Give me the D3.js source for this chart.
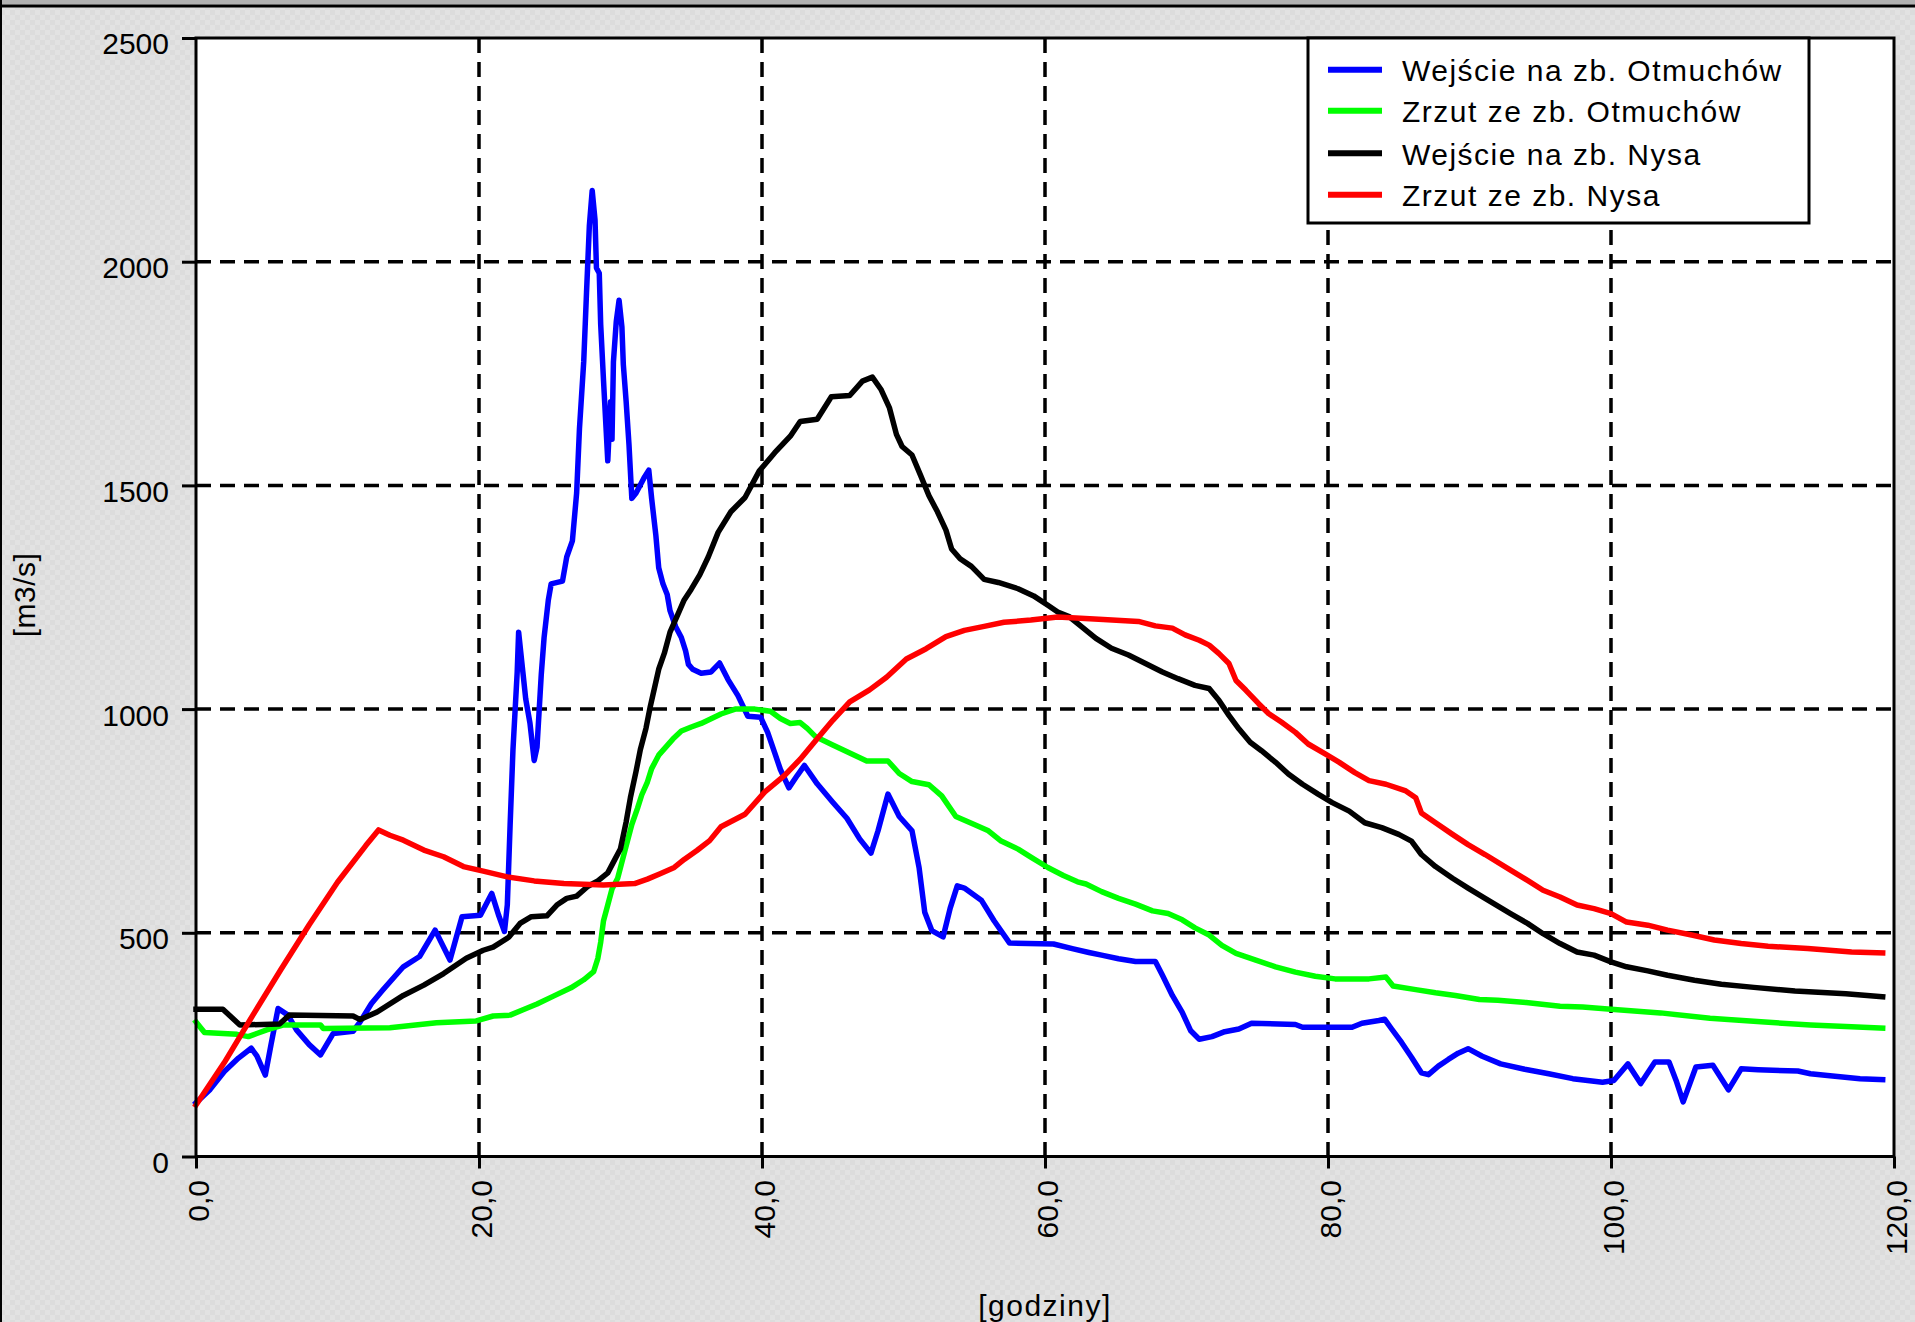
<!DOCTYPE html>
<html lang="pl">
<head>
<meta charset="utf-8">
<title>Przepływy – zbiorniki Otmuchów i Nysa</title>
<script src="https://cdn.jsdelivr.net/npm/d3@7/dist/d3.min.js"></script>
<style>
  html, body { margin: 0; padding: 0; background: #e0e0e0; }
  svg { display: block; font-family: "Liberation Sans", Arial, sans-serif; }
</style>
</head>
<body>
<svg id="chart" width="1915" height="1322"></svg>
<script>
// Axis ticks
const hourTicks = [0, 20, 40, 60, 80, 100, 120];
const flowTicks = [0, 500, 1000, 1500, 2000, 2500];

// Legend labels (same order as the series below)
const seriesNames = [
  "Wejście na zb. Otmuchów",
  "Zrzut ze zb. Otmuchów",
  "Wejście na zb. Nysa",
  "Zrzut ze zb. Nysa"
];
const seriesColors = ["#0000ff", "#00ff00", "#000000", "#ff0000"];

// [godziny, m3/s]
const wejscieOtmuchow = [
  [0,120],[1,150],[2,190],[3,220],[3.9,242],[4.3,225],[4.9,182],[5.3,250],[5.8,331],[6.5,316],
  [7.1,283],[8,250],[8.8,227],[9.7,275],[11.1,280],[11.6,301],[12.4,342],[13.2,372],[14.65,424],
  [15.8,447],[16.9,506],[17.95,439],[18.8,536],[20.1,539],[20.9,588],[21.4,538],[21.8,503],
  [22.0,562],[22.2,742],[22.4,909],[22.7,1083],[22.8,1172],[23.1,1083],[23.3,1023],[23.6,969],
  [23.9,885],[24.1,915],[24.4,1077],[24.6,1160],[24.9,1244],[25.1,1280],[25.9,1286],[26.2,1340],
  [26.6,1376],[26.9,1483],[27.1,1627],[27.4,1776],[27.6,1932],[27.8,2081],[28.0,2159],[28.2,2093],
  [28.3,1986],[28.5,1974],[28.6,1860],[28.8,1734],[29.0,1615],[29.1,1555],[29.3,1687],[29.4,1603],
  [29.5,1776],[29.7,1866],[29.9,1914],[30.1,1854],[30.2,1770],[30.4,1687],[30.6,1591],[30.8,1471],
  [31.1,1483],[31.4,1501],[31.7,1519],[32.0,1534],[32.2,1471],[32.5,1388],[32.7,1316],[33.0,1280],
  [33.3,1256],[33.5,1220],[33.9,1184],[34.3,1160],[34.6,1130],[34.8,1100],[35.1,1089],[35.7,1080],
  [36.4,1083],[37,1103],[37.6,1066],[38.3,1030],[39,984],[39.9,982],[40.4,948],[40.9,902],
  [41.3,865],[41.9,824],[42.5,852],[43,874],[43.9,833],[45,792],[46,756],[46.9,710],[47.7,678],
  [48.2,728],[48.9,810],[49.7,760],[50.6,728],[51.1,646],[51.5,546],[52,505],[52.8,491],[53.3,555],
  [53.8,605],[54.3,600],[55.5,573],[56.4,527],[57.5,477],[60.6,475],[62,464],[63.1,456],[64,450],
  [65.2,442],[66.4,436],[67.8,436],[68.3,405],[69,360],[69.7,322],[70.3,281],[70.9,262],[71.8,268],
  [72.7,279],[73.7,285],[74.6,298],[77.7,295],[78.2,289],[81.7,289],[82.4,298],[83.6,304],[84,307],
  [84.5,285],[85.2,255],[85.9,222],[86.6,187],[87.1,183],[87.8,202],[88.5,217],[89.2,231],[89.9,241],
  [90.9,224],[92.2,207],[93.9,195],[95.6,185],[97.3,174],[99.4,166],[100.2,170],[101.2,207],
  [102.1,163],[103.1,211],[104.1,211],[104.6,170],[105.1,122],[106,200],[107.2,204],[108.3,149],
  [109.2,196],[110.4,194],[113.2,191],[114.1,185],[115.3,181],[117.6,174],[119.2,172]
];

const zrzutOtmuchow = [
  [0,301],[0.6,277],[2.9,273],[3.7,268],[4.3,275],[5,283],[6.2,294],[8.8,294],[9,286],[13.7,288],
  [17,299],[19.8,303],[21,314],[22.2,316],[23.2,329],[24.1,341],[25.3,359],[26.5,377],[27.4,395],
  [28.1,413],[28.4,443],[28.6,479],[28.8,527],[29.1,562],[29.4,598],[29.8,622],[30.1,658],[30.5,706],
  [30.8,742],[31.2,778],[31.5,808],[31.9,837],[32.2,867],[32.7,897],[33.2,915],[33.7,933],[34.3,951],
  [35,960],[35.7,968],[37.1,989],[38.1,1000],[39.5,1000],[40.6,995],[41.3,979],[42,968],[42.7,970],
  [43.2,957],[43.8,938],[45,920],[46.2,902],[47.4,884],[48.9,884],[49.7,856],[50.6,838],[51.8,831],
  [52.7,806],[53.7,760],[55,742],[56,728],[56.9,705],[58.1,687],[59,669],[60.2,646],[61.3,628],
  [62.3,614],[62.9,609],[64,592],[65.2,577],[66.4,564],[67.6,549],[68.7,543],[69.7,529],[70.6,511],
  [71.6,495],[72.5,472],[73.5,454],[74.9,439],[76.3,424],[77.7,412],[79.1,403],[80.5,397],[82.9,397],
  [84.1,401],[84.6,381],[86.2,373],[87.6,366],[89,360],[90.7,351],[92,349],[94,344],[96.4,336],
  [98,334],[100,329],[103.5,321],[107,309],[110.6,301],[114.1,294],[117,290],[119.2,287]
];

const wejscieNysa = [
  [0,329],[1.9,329],[3.1,294],[5.9,296],[6.6,316],[11.1,314],[11.6,306],[12.8,323],[14.65,360],
  [16.1,383],[17.5,409],[19.1,443],[20.3,461],[21,468],[22.1,490],[22.9,521],[23.7,536],[24.8,538],
  [25.5,562],[26.2,577],[26.9,582],[27.7,604],[28.4,616],[29.1,634],[29.5,658],[30,688],[30.4,748],
  [30.7,802],[31.1,861],[31.4,909],[31.8,957],[32.1,1005],[32.4,1047],[32.7,1089],[33.1,1125],
  [33.5,1172],[34,1208],[34.5,1244],[35,1268],[35.6,1300],[36.2,1340],[36.9,1395],[37.8,1441],
  [38.8,1473],[39.8,1532],[40.9,1573],[42,1610],[42.7,1643],[43.9,1648],[44.9,1698],[46.2,1701],
  [47.1,1733],[47.8,1742],[48.4,1715],[49,1674],[49.5,1614],[49.9,1587],[50.6,1568],[51.2,1523],
  [51.8,1477],[52.4,1441],[53,1400],[53.4,1358],[54,1336],[54.8,1319],[55.7,1290],[56.7,1283],
  [58.1,1269],[59.2,1253],[60.2,1232],[60.9,1217],[61.7,1207],[62.6,1184],[63.6,1158],[64.7,1136],
  [65.9,1121],[67.1,1102],[68.3,1083],[69.4,1068],[70.6,1053],[71.6,1046],[72.3,1019],[73,986],
  [73.7,956],[74.5,926],[75.3,907],[76.3,881],[77.2,855],[78.2,832],[79.3,810],[80.3,791],[81.5,772],
  [82.6,746],[83.8,735],[85,720],[85.9,705],[86.6,675],[87.6,648],[88.8,622],[89.9,600],[91.1,577],
  [92.9,543],[94.1,521],[95.2,498],[96.4,476],[97.6,457],[98.8,450],[100,435],[101.1,424],[102.6,415],
  [104,405],[105.9,394],[107.8,385],[110.1,378],[113,370],[116.6,364],[119.2,357]
];

const zrzutNysa = [
  [0,115],[2,210],[4,315],[6,418],[8,518],[10,613],[12,695],[12.9,730],[13.7,718],[14.65,707],
  [16.1,685],[17.5,670],[18.9,648],[20.3,638],[22,625],[23.9,616],[26,610],[28.8,607],[31,610],
  [31.9,620],[32.8,632],[33.8,646],[34.5,664],[35.4,684],[36.3,706],[37.1,737],[38.8,765],[40.2,815],
  [41.6,852],[42.7,888],[43.9,934],[45,975],[46.2,1016],[47.6,1043],[48.8,1071],[50.2,1112],
  [51.6,1135],[53,1162],[54.3,1176],[55.7,1185],[57.1,1194],[59,1199],[60.9,1206],[63.8,1201],
  [66.6,1196],[67.8,1186],[69,1181],[69.9,1166],[70.9,1154],[71.6,1143],[72.3,1124],[73,1102],
  [73.5,1064],[74.2,1042],[75.1,1012],[75.8,990],[76.7,971],[77.7,948],[78.6,922],[79.8,900],
  [80.8,881],[81.9,858],[82.9,840],[84.1,832],[85.5,817],[86.2,802],[86.6,768],[87.6,746],[88.8,720],
  [89.9,697],[91.1,675],[92.9,640],[94.1,617],[95.2,595],[96.4,580],[97.6,562],[98.8,554],[100,543],
  [101.1,524],[102.6,517],[104,506],[105.7,495],[107.3,484],[109.2,476],[111.1,470],[113.9,465],
  [117,457],[119.2,455]
];

const seriesData = [wejscieOtmuchow, zrzutOtmuchow, wejscieNysa, zrzutNysa];

// ---- layout ----
const W = 1915, H = 1322;
const plot = { left: 196, right: 1894, top: 38, bottom: 1156.5 };
const FONT = 30;

const svg = d3.select("#chart");

// dithered grey window background
const defs = svg.append("defs");
const pat = defs.append("pattern")
  .attr("id", "dither").attr("patternUnits", "userSpaceOnUse")
  .attr("width", 10).attr("height", 10);
pat.append("rect").attr("width", 10).attr("height", 10).attr("fill", "#e2e2e2");
pat.append("rect").attr("width", 5).attr("height", 5).attr("fill", "#dcdcdc");
pat.append("rect").attr("x", 5).attr("y", 5).attr("width", 5).attr("height", 5).attr("fill", "#dcdcdc");

svg.append("rect").attr("width", W).attr("height", H).attr("fill", "url(#dither)");
svg.append("rect").attr("width", W).attr("height", 4.5).attr("fill", "#b2b2b2");
svg.append("rect").attr("y", 4.5).attr("width", W).attr("height", 3).attr("fill", "#000");
svg.append("rect").attr("width", 2).attr("height", H).attr("fill", "#000");

const x = d3.scaleLinear().domain([0, 120]).range([plot.left, plot.right]);
const y = d3.scaleLinear().domain([0, 2500]).range([plot.bottom, plot.top]);

// plot area
svg.append("rect")
  .attr("x", plot.left).attr("y", plot.top)
  .attr("width", plot.right - plot.left).attr("height", plot.bottom - plot.top)
  .attr("fill", "#fff");

// dashed grid
const grid = svg.append("g").attr("stroke", "#000").attr("stroke-width", 3.5)
  .attr("stroke-dasharray", "15,9").attr("fill", "none");
grid.selectAll("line.h").data(flowTicks.filter(v => v > 0 && v < 2500)).join("line")
  .attr("class", "h")
  .attr("x1", plot.left).attr("x2", plot.right)
  .attr("y1", d => y(d)).attr("y2", d => y(d));
grid.selectAll("line.v").data(hourTicks.filter(v => v > 0 && v < 120)).join("line")
  .attr("class", "v")
  .attr("x1", d => x(d)).attr("x2", d => x(d))
  .attr("y1", plot.top).attr("y2", plot.bottom);

// axes
const yAxis = svg.append("g")
  .attr("transform", `translate(${plot.left},0)`)
  .call(d3.axisLeft(y).tickValues(flowTicks).tickSize(14).tickPadding(13).tickFormat(d3.format("d")));
yAxis.select(".domain").remove();
yAxis.selectAll(".tick line").attr("stroke", "#000").attr("stroke-width", 3);
yAxis.selectAll(".tick text")
  .attr("font-size", FONT).attr("font-family", "Liberation Sans, Arial, sans-serif")
  .attr("fill", "#000").attr("dy", "0.53em");

const xAxis = svg.append("g")
  .attr("transform", `translate(0,${plot.bottom})`)
  .call(d3.axisBottom(x).tickValues(hourTicks).tickSize(12)
    .tickFormat(d => d.toFixed(1).replace(".", ",")));
xAxis.select(".domain").remove();
xAxis.selectAll(".tick line").attr("stroke", "#000").attr("stroke-width", 3);
xAxis.selectAll(".tick text")
  .attr("font-size", FONT).attr("font-family", "Liberation Sans, Arial, sans-serif")
  .attr("fill", "#000")
  .attr("transform", "rotate(-90)")
  .attr("text-anchor", "end")
  .attr("x", -23.5).attr("y", 12.5).attr("dy", 0);

// series
const line = d3.line().x(d => x(d[0])).y(d => y(d[1]));
svg.append("g").attr("fill", "none")
  .selectAll("path").data(seriesData).join("path")
  .attr("d", line)
  .attr("stroke", (d, i) => seriesColors[i])
  .attr("stroke-width", 5.5)
  .attr("stroke-linejoin", "round")
  .attr("stroke-linecap", "square");

// frame
svg.append("rect")
  .attr("x", plot.left).attr("y", plot.top)
  .attr("width", plot.right - plot.left).attr("height", plot.bottom - plot.top)
  .attr("fill", "none").attr("stroke", "#000").attr("stroke-width", 3);

// legend
const lg = svg.append("g");
lg.append("rect")
  .attr("x", 1308).attr("y", plot.top).attr("width", 501).attr("height", 185)
  .attr("fill", "#fff").attr("stroke", "#000").attr("stroke-width", 3);
const rowY = [69.7, 110.7, 153.2, 194.7];
const items = lg.selectAll("g.item").data(seriesNames).join("g")
  .attr("class", "item")
  .attr("transform", (d, i) => `translate(0,${rowY[i]})`);
items.append("line")
  .attr("x1", 1328).attr("x2", 1382).attr("y1", 0).attr("y2", 0)
  .attr("stroke", (d, i) => seriesColors[i]).attr("stroke-width", 6);
items.append("text")
  .attr("x", 1402).attr("y", 0).attr("dy", "0.38em")
  .attr("font-size", FONT).attr("letter-spacing", 1.5)
  .attr("fill", "#000")
  .text(d => d);

// axis titles
svg.append("text")
  .attr("transform", "translate(35,595) rotate(-90)")
  .attr("text-anchor", "middle")
  .attr("font-size", FONT).attr("letter-spacing", 0.5).attr("fill", "#000")
  .text("[m3/s]");
svg.append("text")
  .attr("x", (plot.left + plot.right) / 2).attr("y", 1316)
  .attr("text-anchor", "middle")
  .attr("font-size", FONT).attr("letter-spacing", 1.5).attr("fill", "#000")
  .text("[godziny]");
</script>
</body>
</html>
